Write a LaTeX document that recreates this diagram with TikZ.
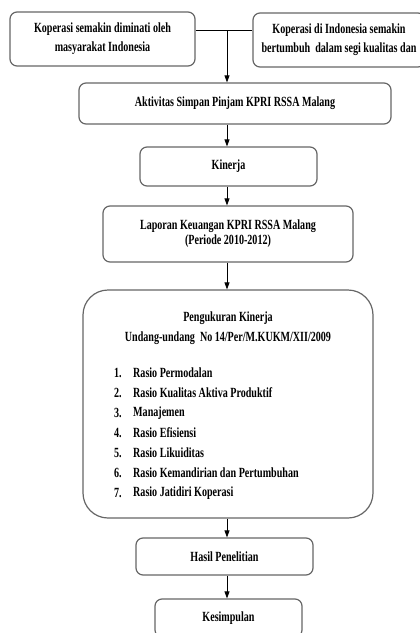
\documentclass[tikz,border=0pt]{standalone}
\usepackage{fontspec}
\setmainfont{Liberation Serif}[FakeStretch=0.72]
\usetikzlibrary{arrows.meta}
\begin{document}
\begin{tikzpicture}[x=1pt,y=-1pt,
    box/.style={draw=black!60,line width=1.2pt,rounded corners=7pt,align=center,inner sep=0pt,
      font=\fontsize{14}{19}\selectfont\bfseries},
    txt/.style={inner sep=0pt,font=\fontsize{14}{17}\selectfont\bfseries},
    >={Triangle[length=7pt,width=5pt]}]
  \useasboundingbox (0,0) rectangle (420,633);
  \clip (0,0) rectangle (420,633);
  \draw
    (102.5,39) node[box,minimum width=185pt,minimum height=54pt] (minat){Koperasi semakin diminati oleh\\masyarakat Indonesia}
    (339,40) node[box,minimum width=172pt,minimum height=54pt] (tumbuh){Koperasi di Indonesia semakin\\bertumbuh\ \ dalam segi kualitas dan}
    (235,103.5) node[box,minimum width=312pt,minimum height=41pt] (aktivitas){Aktivitas Simpan Pinjam KPRI RSSA Malang}
    (228.5,166.5) node[box,minimum width=177pt,minimum height=39pt] (kinerja){Kinerja}
    (228,234) node[box,minimum width=250pt,minimum height=56pt,font=\fontsize{14}{15}\selectfont\bfseries] (laporan){Laporan Keuangan KPRI RSSA Malang\\(Periode 2010-2012)}
    (228,404) node[box,minimum width=290pt,minimum height=228pt,rounded corners=25pt] (ukur){}
    (224.5,556.5) node[box,minimum width=177pt,minimum height=37pt] (hasil){Hasil Penelitian}
    (228.5,618) node[box,minimum width=147pt,minimum height=38pt] (simpul){Kesimpulan};
  % isi kotak pengukuran
  \draw
    (228,318) node[txt] (judul){Pengukuran Kinerja}
    (228,338) node[txt] (uu){Undang-undang\ \ No 14/Per/M.KUKM/XII/2009}
    (114,373) node[txt,anchor=west] (n1){1.}
    (114,393) node[txt,anchor=west] (n2){2.}
    (114,413) node[txt,anchor=west] (n3){3.}
    (114,433) node[txt,anchor=west] (n4){4.}
    (114,453) node[txt,anchor=west] (n5){5.}
    (114,473) node[txt,anchor=west] (n6){6.}
    (114,493) node[txt,anchor=west] (n7){7.}
    (133,373) node[txt,anchor=west] (r1){Rasio Permodalan}
    (133,393) node[txt,anchor=west] (r2){Rasio Kualitas Aktiva Produktif}
    (133,413) node[txt,anchor=west] (r3){Manajemen}
    (133,433) node[txt,anchor=west] (r4){Rasio Efisiensi}
    (133,453) node[txt,anchor=west] (r5){Rasio Likuiditas}
    (133,473) node[txt,anchor=west] (r6){Rasio Kemandirian dan Pertumbuhan}
    (133,493) node[txt,anchor=west] (r7){Rasio Jatidiri Koperasi};
  \coordinate (j) at (227,30);
  \begin{scope}[line width=0.8pt]
    \draw (minat.east |- j) to (tumbuh.west |- j);
    \draw[->] (j) to (j |- aktivitas.north);
    \draw[->] (j |- aktivitas.south) to (j |- kinerja.north);
    \draw[->] (j |- kinerja.south) to (j |- laporan.north);
    \draw[->] (j |- laporan.south) to (j |- ukur.north);
    \draw[->] (j |- ukur.south) to (j |- hasil.north);
    \draw[->] (j |- hasil.south) to (j |- simpul.north);
  \end{scope}
\end{tikzpicture}
\end{document}
